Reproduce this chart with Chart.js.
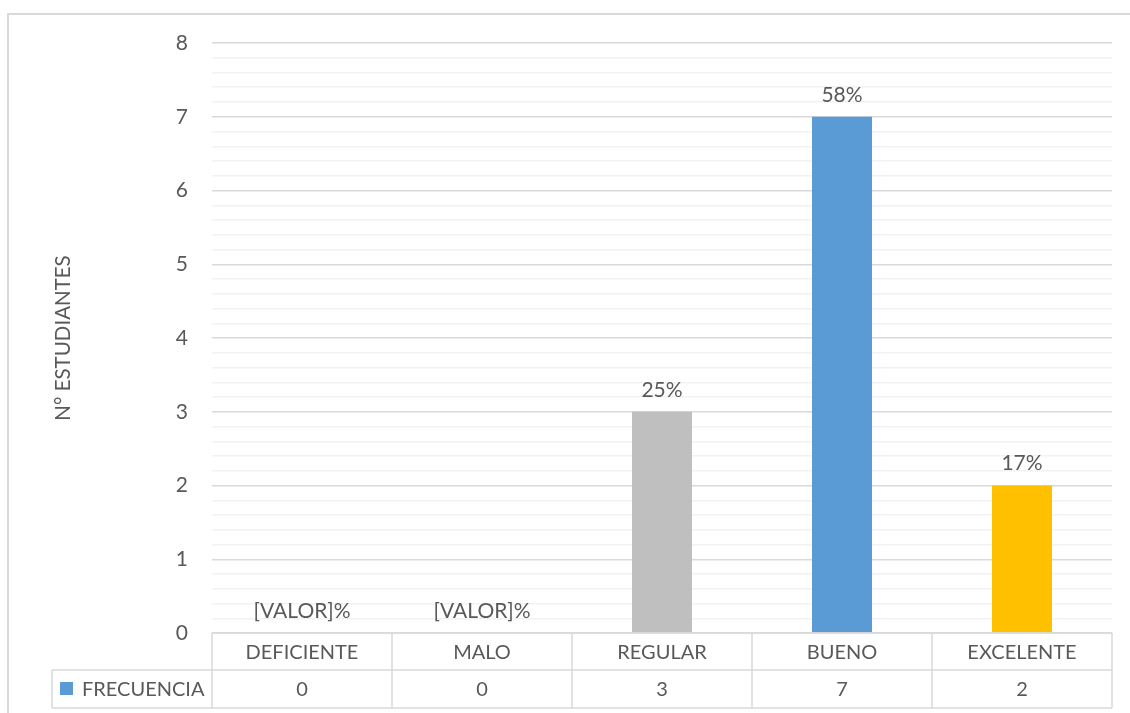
<!DOCTYPE html>
<html>
<head>
<meta charset="utf-8">
<script src="https://cdn.jsdelivr.net/npm/chart.js@4.4.1/dist/chart.umd.min.js"></script>
<style>
  html, body { margin: 0; padding: 0; background: #fff; overflow: hidden; }
  #frame { position: absolute; left: 7px; top: 13px; width: 1200px; height: 800px; border: 2px solid #d9d9d9; }
  #wrap { position: absolute; left: 0; top: 0; width: 1130px; height: 713px; }
</style>
</head>
<body>
<div id="frame"></div>
<div id="wrap"><canvas id="chart"></canvas></div>
<script>
// Data
const categories = ["DEFICIENTE", "MALO", "REGULAR", "BUENO", "EXCELENTE"];
const frecuencia = [0, 0, 3, 7, 2];
const percentLabels = ["[VALOR]%", "[VALOR]%", "25%", "58%", "17%"];
const seriesName = "FRECUENCIA";
const yTitle = "N° ESTUDIANTES";

const barColors = ["#a5a5a5", "#ed7d31", "#bfbfbf", "#5b9bd5", "#ffc000"];
const textColor = "#595959";
const lineColor = "#d9d9d9";
const fontFamily = "Lato, 'Open Sans', sans-serif";

function isWhole(v) {
  return Math.abs(v - Math.round(v)) < 1e-6;
}

// Percent labels above each bar
const labelPlugin = {
  id: "pctLabels",
  afterDatasetsDraw(chart) {
    const ctx = chart.ctx;
    const meta = chart.getDatasetMeta(0);
    ctx.save();
    ctx.font = "21px " + fontFamily;
    ctx.fillStyle = textColor;
    ctx.textAlign = "center";
    ctx.textBaseline = "middle";
    meta.data.forEach((bar, i) => {
      ctx.fillText(percentLabels[i], bar.x, bar.y - 22);
    });
    ctx.restore();
  }
};

// Excel style data table under the plot
const tablePlugin = {
  id: "dataTable",
  afterDraw(chart) {
    const ctx = chart.ctx;
    const xs = chart.scales.x;
    const area = chart.chartArea;
    const n = categories.length;
    const w = (area.right - area.left) / n;
    const top = area.bottom;
    const mid = top + 37;
    const bot = top + 75;
    const keyLeft = 52;

    ctx.save();
    ctx.strokeStyle = lineColor;
    ctx.lineWidth = 1.5;
    ctx.beginPath();
    ctx.moveTo(area.left, top); ctx.lineTo(area.right, top);
    ctx.moveTo(keyLeft, mid); ctx.lineTo(area.right, mid);
    ctx.moveTo(keyLeft, bot); ctx.lineTo(area.right, bot);
    ctx.moveTo(keyLeft, mid); ctx.lineTo(keyLeft, bot);
    for (let i = 0; i <= n; i++) {
      const x = area.left + i * w;
      ctx.moveTo(x, top); ctx.lineTo(x, bot);
    }
    ctx.stroke();

    ctx.font = "20px " + fontFamily;
    ctx.fillStyle = textColor;
    ctx.textAlign = "center";
    ctx.textBaseline = "middle";
    categories.forEach((c, i) => {
      const cx = xs.getPixelForValue(i);
      ctx.fillText(c, cx, (top + mid) / 2 + 1);
      ctx.fillText(String(frecuencia[i]), cx, (mid + bot) / 2 + 1);
    });

    // legend key + series name
    ctx.fillStyle = "#5b9bd5";
    ctx.fillRect(60, (mid + bot) / 2 - 7, 13, 13);
    ctx.fillStyle = textColor;
    ctx.textAlign = "left";
    ctx.fillText(seriesName, 82, (mid + bot) / 2 + 1);
    ctx.restore();
  }
};

new Chart(document.getElementById("chart"), {
  type: "bar",
  data: {
    labels: categories,
    datasets: [{
      label: seriesName,
      data: frecuencia,
      backgroundColor: barColors,
      categoryPercentage: 1,
      barPercentage: 1 / 3
    }]
  },
  options: {
    responsive: true,
    maintainAspectRatio: false,
    animation: false,
    layout: { padding: { left: 0, right: 18, top: 43, bottom: 80 } },
    plugins: {
      legend: { display: false },
      tooltip: { enabled: false }
    },
    scales: {
      x: { display: false },
      y: {
        min: 0,
        max: 8,
        afterFit(scale) { scale.width = 212; },
        border: { display: false },
        grid: {
          drawTicks: false,
          lineWidth: 1.5,
          color: ctx => (isWhole(ctx.tick.value) ? "#d9d9d9" : "#f2f2f2")
        },
        ticks: {
          stepSize: 0.2,
          autoSkip: false,
          padding: 24,
          color: textColor,
          font: { family: fontFamily, size: 21 },
          callback: v => (isWhole(v) ? String(Math.round(v)) : "")
        },
        title: {
          display: true,
          text: yTitle,
          color: textColor,
          font: { family: fontFamily, size: 20.5 },
          padding: { top: 51, bottom: 0 }
        }
      }
    }
  },
  plugins: [labelPlugin, tablePlugin]
});
</script>
</body>
</html>
